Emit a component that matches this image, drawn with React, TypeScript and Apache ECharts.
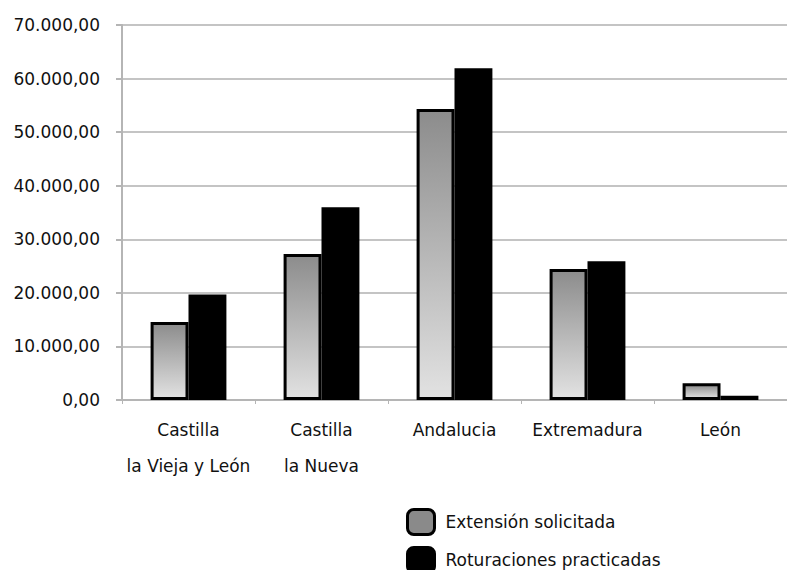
import React, { useEffect, useRef } from "react";
import * as echarts from "echarts";

const categories = ["Castilla\nla Vieja y León", "Castilla\nla Nueva", "Andalucia", "Extremadura", "León"];
const extensionSolicitada = [14550, 27250, 54300, 24450, 3150];
const roturacionesPracticadas = [19700, 36000, 61950, 25900, 800];
const seriesNames = ["Extensión solicitada", "Roturaciones practicadas"];

function fmt(v: number): string {
  const s = Math.round(v).toString().replace(/\B(?=(\d{3})+(?!\d))/g, ".");
  return s + ",00";
}

export default function App() {
  const ref = useRef<HTMLDivElement>(null);
  useEffect(() => {
    if (!ref.current) return;
    const chart = echarts.init(ref.current, null, { renderer: "svg" });
    const font = "'DejaVu Sans', sans-serif";
    const fs = 17;
    const legendBase = {
      orient: "vertical",
      left: 401,
      itemWidth: 27,
      itemHeight: 25,
      textStyle: { fontSize: fs, color: "#111", fontFamily: font, padding: [0, 0, 0, 6] },
    };
    chart.setOption({
      animation: false,
      backgroundColor: "#ffffff",
      textStyle: { fontFamily: font },
      grid: { left: 122, right: 0, top: 25, bottom: 170, containLabel: false },
      legend: [
        {
          ...legendBase,
          top: 503,
          data: [{ name: seriesNames[0], itemStyle: { color: "#8a8a8a", borderColor: "#000", borderWidth: 3 } }],
        },
        {
          ...legendBase,
          top: 541,
          data: [{ name: seriesNames[1], itemStyle: { color: "#000", borderColor: "#000", borderWidth: 3 } }],
        },
      ],
      xAxis: {
        type: "category",
        data: categories,
        axisLine: { lineStyle: { color: "#b5b5b5", width: 2 } },
        axisTick: { show: true, length: 4, lineStyle: { color: "#b5b5b5" } },
        axisLabel: { interval: 0, fontSize: fs, color: "#111", lineHeight: 36, margin: 12, fontFamily: font },
      },
      yAxis: {
        type: "value",
        min: 0,
        max: 70000,
        interval: 10000,
        axisLine: { show: true, lineStyle: { color: "#b5b5b5", width: 2 } },
        axisTick: { show: true, length: 6, lineStyle: { color: "#b5b5b5", width: 2 } },
        splitLine: { lineStyle: { color: "#c4c4c4", width: 2 } },
        axisLabel: { fontSize: fs, color: "#111", margin: 22, formatter: (v: number) => fmt(v), fontFamily: font },
      },
      series: [
        {
          name: seriesNames[0],
          type: "bar",
          data: extensionSolicitada,
          barGap: "0%",
          barCategoryGap: "43%",
          itemStyle: {
            borderColor: "#000",
            borderWidth: 3,
            color: new echarts.graphic.LinearGradient(0, 0, 0, 1, [
              { offset: 0, color: "#8c8c8c" },
              { offset: 1, color: "#e2e2e2" },
            ]),
          },
        },
        {
          name: seriesNames[1],
          type: "bar",
          data: roturacionesPracticadas,
          itemStyle: { color: "#000", borderColor: "#000", borderWidth: 3 },
        },
      ],
    });
    return () => chart.dispose();
  }, []);
  return <div ref={ref} style={{ position: "fixed", left: 0, top: 0, width: 787, height: 570 }} />;
}
